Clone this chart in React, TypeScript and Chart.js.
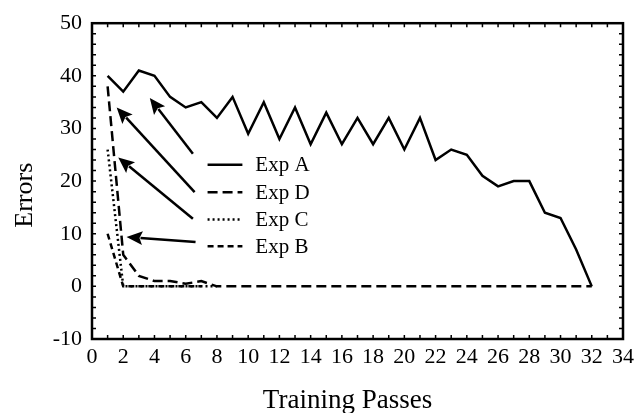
import { useEffect, useRef } from "react";
import { Chart, registerables } from "chart.js";

Chart.register(...registerables);

// ---- data ----
const passes = [1, 2, 3, 4, 5, 6, 7, 8, 9, 10, 11, 12, 13, 14, 15, 16, 17, 18, 19, 20, 21, 22, 23, 24, 25, 26, 27, 28, 29, 30, 31, 32];
const expA = [40, 37, 41, 40, 36, 34, 35, 32, 36, 29, 35, 28, 34, 27, 33, 27, 32, 27, 32, 26, 32, 24, 26, 25, 21, 19, 20, 20, 14, 13, 7, 0];
const expD = [38, 6, 2, 1, 1, 0.5, 1, 0, 0, 0, 0, 0, 0, 0, 0, 0, 0, 0, 0, 0, 0, 0, 0, 0, 0, 0, 0, 0, 0, 0, 0, 0];
const expC = [26, 0, 0, 0, 0, 0, 0, 0];
const expB = [10, 0, 0, 0, 0, 0, 0];

const xMin = 0;
const xMax = 34;
const xStep = 2;
const yMin = -10;
const yMax = 50;
const yStep = 10;

const xTitle = "Training Passes";
const yTitle = "Errors";

// legend rows (top to bottom) and their dashes
const legendLabels = ["Exp A", "Exp D", "Exp C", "Exp B"];
const legendDashes: number[][] = [[], [10, 5], [2, 3], [6, 4]];
// legend row y positions in data units
const legendRowY = [23.1, 17.9, 12.7, 7.6];
// arrows: tail and tip in data units
const arrowTailX = [6.46, 6.57, 6.46, 6.63];
const arrowTailY = [25.2, 17.9, 12.85, 8.42];
const arrowTipX = [3.7, 1.58, 1.68, 2.21];
const arrowTipY = [35.8, 34.0, 24.5, 9.39];

const FONT = "'Liberation Serif', 'Times New Roman', serif";

const decor = {
  id: "decor",
  afterDraw(chart: any) {
    const { ctx, chartArea: a, scales } = chart;
    const x = scales.x;
    const y = scales.y;
    ctx.save();
    ctx.strokeStyle = "#000";
    ctx.fillStyle = "#000";
    ctx.setLineDash([]);
    // inward ticks
    ctx.lineWidth = 1.5;
    ctx.beginPath();
    for (let v = xMin; v <= xMax; v += 1) {
      const px = x.getPixelForValue(v);
      ctx.moveTo(px, a.bottom);
      ctx.lineTo(px, a.bottom - 4);
      ctx.moveTo(px, a.top);
      ctx.lineTo(px, a.top + 4);
    }
    for (let v = yMin; v <= yMax; v += 2) {
      const py = y.getPixelForValue(v);
      ctx.moveTo(a.left, py);
      ctx.lineTo(a.left + 4, py);
      ctx.moveTo(a.right, py);
      ctx.lineTo(a.right - 4, py);
    }
    ctx.stroke();
    // frame
    ctx.lineWidth = 2.5;
    ctx.strokeRect(a.left, a.top, a.right - a.left, a.bottom - a.top);

    // legend
    const lx0 = x.getPixelForValue(7.4);
    const lx1 = x.getPixelForValue(9.63);
    const tx = x.getPixelForValue(10.46);
    ctx.font = `21px ${FONT}`;
    ctx.textBaseline = "middle";
    ctx.textAlign = "left";
    legendLabels.forEach((lab, i) => {
      const py = y.getPixelForValue(legendRowY[i]);
      ctx.lineWidth = 2.5;
      ctx.setLineDash(legendDashes[i]);
      ctx.beginPath();
      ctx.moveTo(lx0, py);
      ctx.lineTo(lx1, py);
      ctx.stroke();
      ctx.setLineDash([]);
      ctx.fillText(lab, tx, py + 1);
    });

    // arrows
    ctx.setLineDash([]);
    arrowTailX.forEach((_, i) => {
      const x0 = x.getPixelForValue(arrowTailX[i]);
      const y0 = y.getPixelForValue(arrowTailY[i]);
      const x1 = x.getPixelForValue(arrowTipX[i]);
      const y1 = y.getPixelForValue(arrowTipY[i]);
      const ang = Math.atan2(y1 - y0, x1 - x0);
      const hl = 16;
      const hw = 7;
      const bx = x1 - hl * Math.cos(ang);
      const by = y1 - hl * Math.sin(ang);
      ctx.lineWidth = 2.5;
      ctx.beginPath();
      ctx.moveTo(x0, y0);
      ctx.lineTo(bx + 2 * Math.cos(ang), by + 2 * Math.sin(ang));
      ctx.stroke();
      ctx.beginPath();
      ctx.moveTo(x1, y1);
      ctx.lineTo(bx - hw * Math.sin(ang), by + hw * Math.cos(ang));
      ctx.lineTo(bx + 3 * Math.cos(ang), by + 3 * Math.sin(ang));
      ctx.lineTo(bx + hw * Math.sin(ang), by - hw * Math.cos(ang));
      ctx.closePath();
      ctx.fill();
    });

    // axis titles
    ctx.font = `27px ${FONT}`;
    ctx.textAlign = "center";
    ctx.textBaseline = "alphabetic";
    ctx.fillText(xTitle, a.left + 255.5, 408);
    ctx.save();
    ctx.translate(31.5, a.top + 172);
    ctx.rotate(-Math.PI / 2);
    ctx.font = `26px ${FONT}`;
    ctx.fillText(yTitle, 0, 0);
    ctx.restore();

    ctx.restore();
  },
};

export default function App() {
  const ref = useRef<HTMLCanvasElement>(null);
  useEffect(() => {
    if (!ref.current) return;
    const mk = (vals: number[]) => vals.map((v, i) => ({ x: passes[i], y: v }));
    const ds = (label: string, vals: number[], dash: number[]) => ({
      label,
      data: mk(vals),
      borderColor: "#000",
      backgroundColor: "#000",
      borderWidth: 2.5,
      borderDash: dash,
      pointRadius: 0,
      fill: false,
      tension: 0,
    });
    const chart = new Chart(ref.current, {
      type: "line",
      data: {
        datasets: [
          ds("Exp B", expB, legendDashes[3]),
          ds("Exp C", expC, legendDashes[2]),
          ds("Exp D", expD, legendDashes[1]),
          ds("Exp A", expA, legendDashes[0]),
        ],
      },
      options: {
        responsive: false,
        animation: false,
        devicePixelRatio: 1,
        layout: { padding: { left: 0, right: 13, top: 22, bottom: 0 } },
        plugins: { legend: { display: false }, tooltip: { enabled: false } },
        scales: {
          x: {
            type: "linear",
            min: xMin,
            max: xMax,
            grid: { display: false, drawTicks: false },
            border: { display: false },
            ticks: {
              stepSize: xStep,
              autoSkip: false,
              maxRotation: 0,
              padding: 5,
              color: "#000",
              font: { family: FONT, size: 22 },
            },
            afterFit: (s: any) => {
              s.height = 74;
            },
          },
          y: {
            type: "linear",
            min: yMin,
            max: yMax,
            grid: { display: false, drawTicks: false },
            border: { display: false },
            ticks: {
              stepSize: yStep,
              padding: 10,
              color: "#000",
              font: { family: FONT, size: 22 },
            },
            afterFit: (s: any) => {
              s.width = 92;
            },
          },
        },
      },
      plugins: [decor],
    });
    return () => chart.destroy();
  }, []);
  return (
    <div style={{ position: "absolute", left: 0, top: 0, width: 639, height: 413, background: "#fff" }}>
      <canvas ref={ref} width={639} height={413} />
    </div>
  );
}
